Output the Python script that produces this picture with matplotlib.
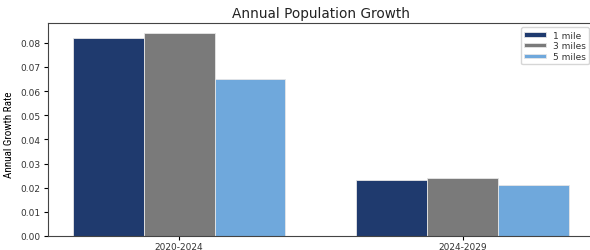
import numpy as np
import matplotlib
matplotlib.use("Agg")
import matplotlib.pyplot as plt

periods = ["2020-2024", "2024-2029"]
series = ["1 mile", "3 miles", "5 miles"]
growth_1mi = [0.082, 0.023]
growth_3mi = [0.084, 0.024]
growth_5mi = [0.065, 0.021]
COLORS = ["#1f3a6e", "#7a7a7a", "#6fa8dc"]

fig = plt.figure(figsize=(5.9, 2.51), dpi=100)
ax = fig.add_axes([0.0814, 0.0558, 0.925, 0.849])

x = np.arange(len(periods))
w = 0.25
for i, (vals, lab) in enumerate(zip([growth_1mi, growth_3mi, growth_5mi], series)):
    ax.bar(x + (i - 1) * w, vals, width=w, color=COLORS[i], label=lab,
           edgecolor="#e6e6e6", linewidth=0.6)

ax.set_xticks(x)
ax.set_xticklabels(periods, fontsize=6.5, color="#333333")
ax.tick_params(axis="y", labelsize=6.5, labelcolor="#333333", length=3, pad=2.5)
ax.tick_params(axis="x", length=3, pad=1.5)
ax.set_yticks(np.arange(0, 0.081, 0.01))
ax.set_ylabel("Annual Growth Rate", fontsize=8,
              family=["Roboto Condensed", "DejaVu Sans"])
ax.yaxis.set_label_coords(-0.063, 0.48)
ax.set_title("Annual Population Growth", fontsize=9.8, pad=4, color="#222222")
for s in ["left", "bottom", "top", "right"]:
    ax.spines[s].set_color("#444444")
    ax.spines[s].set_linewidth(0.8)
leg = ax.legend(loc="upper right", fontsize=6.5, frameon=True, handlelength=2.4,
                handleheight=0.4, borderpad=0.35, labelspacing=0.2)
for t in leg.get_texts():
    t.set_color("#333333")

fig.savefig("out.png", dpi=100)
